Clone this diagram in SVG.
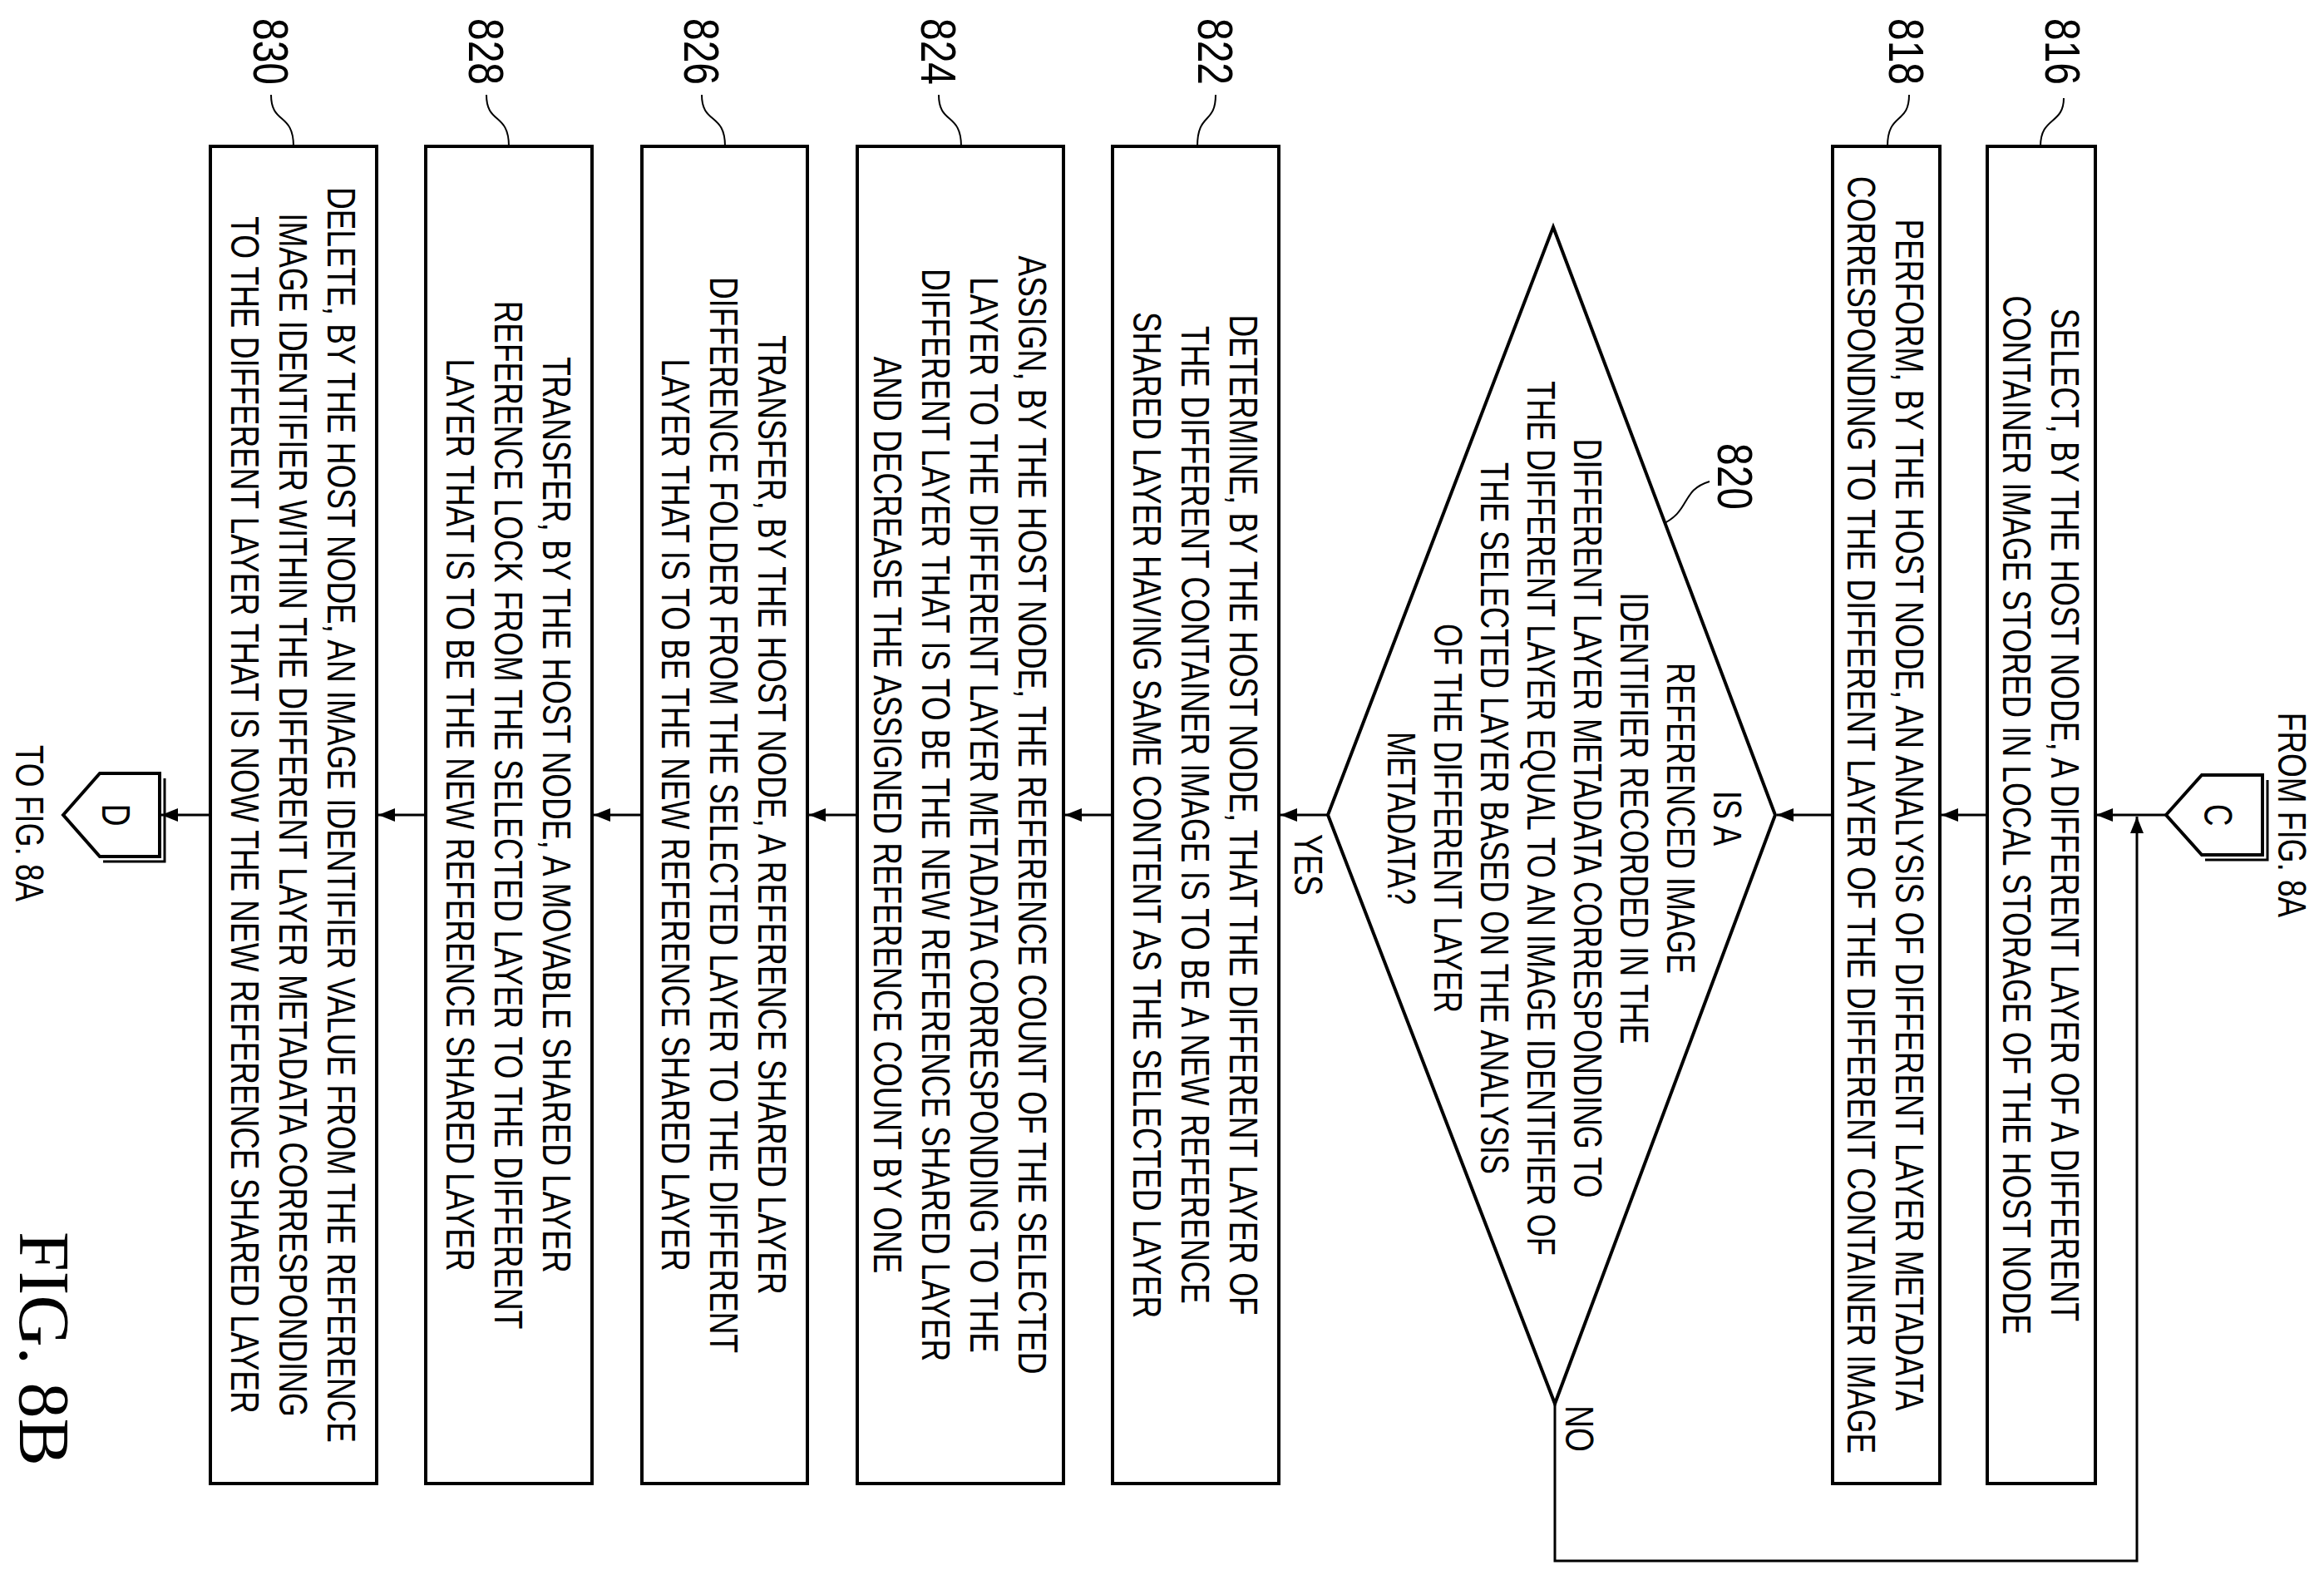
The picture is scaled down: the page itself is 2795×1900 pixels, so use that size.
<svg xmlns="http://www.w3.org/2000/svg" width="2795" height="1900" viewBox="0 0 2795 1900">
<style>
.box{fill:#fff;stroke:#000;stroke-width:4}
.ln{fill:none;stroke:#000;stroke-width:3}
.ld{fill:none;stroke:#000;stroke-width:2}
.t{font-family:"Liberation Sans",Arial,sans-serif;font-size:48px;text-anchor:middle;fill:#000}
.n{font-family:"Liberation Sans",Arial,sans-serif;font-size:60px;text-anchor:middle;fill:#000}
.f{font-family:"Liberation Serif","Times New Roman",serif;font-size:86px;text-anchor:middle;fill:#000}
</style>
<defs>
<marker id="ah" viewBox="0 0 20 16" refX="20" refY="8" markerWidth="20" markerHeight="16" markerUnits="userSpaceOnUse" orient="auto"><path d="M0,0 L20,8 L0,16 Z" fill="#000"/></marker>
</defs>
<g id="connectors">
<line class="ln" x1="2605" y1="980" x2="2521" y2="980" marker-end="url(#ah)"/>
<line class="ln" x1="2390" y1="980" x2="2335" y2="980" marker-end="url(#ah)"/>
<line class="ln" x1="2204" y1="980" x2="2137" y2="980" marker-end="url(#ah)"/>
<line class="ln" x1="1597" y1="980" x2="1540" y2="980" marker-end="url(#ah)"/>
<line class="ln" x1="1338" y1="980" x2="1281" y2="980" marker-end="url(#ah)"/>
<line class="ln" x1="1031" y1="980" x2="973" y2="980" marker-end="url(#ah)"/>
<line class="ln" x1="772" y1="980" x2="714" y2="980" marker-end="url(#ah)"/>
<line class="ln" x1="512" y1="980" x2="455" y2="980" marker-end="url(#ah)"/>
<line class="ln" x1="253" y1="980" x2="194" y2="980" marker-end="url(#ah)"/>
<polyline class="ln" points="1870,1688 1870,1877 2570,1877 2570,982" marker-end="url(#ah)"/>
<path class="ld" d="M2482,118 C2482,150 2454,140 2454,176"/>
<path class="ld" d="M2296,114 C2296,150 2270,135 2270,176"/>
<path class="ld" d="M1462,114 C1462,150 1440,135 1440,176"/>
<path class="ld" d="M1129,114 C1129,150 1156,135 1156,176"/>
<path class="ld" d="M844,114 C844,150 872,135 872,176"/>
<path class="ld" d="M585,114 C585,150 612,135 612,176"/>
<path class="ld" d="M326,114 C326,150 353,135 353,176"/>
<path class="ld" d="M2056,579 C2020,590 2035,615 1996,632"/>
</g>
<g id="n816"><rect class="box" x="2390" y="176" width="130" height="1608"/>
<g transform="translate(2455,980) rotate(90) scale(0.77,1)"><text class="t" y="-12">SELECT, BY THE HOST NODE, A DIFFERENT LAYER OF A DIFFERENT</text><text class="t" y="46">CONTAINER IMAGE STORED IN LOCAL STORAGE OF THE HOST NODE</text></g>
<text class="n" transform="translate(2481,62) rotate(90) scale(0.8,1)" y="21">816</text></g>
<g id="n818"><rect class="box" x="2204" y="176" width="129" height="1608"/>
<g transform="translate(2268,980) rotate(90) scale(0.77,1)"><text class="t" y="-12">PERFORM, BY THE HOST NODE, AN ANALYSIS OF DIFFERENT LAYER METADATA</text><text class="t" y="46">CORRESPONDING TO THE DIFFERENT LAYER OF THE DIFFERENT CONTAINER IMAGE</text></g>
<text class="n" transform="translate(2293,62) rotate(90) scale(0.8,1)" y="21">818</text></g>
<g id="n820"><polygon class="box" points="1868,273 2135,980 1870,1688 1597,980"/>
<g transform="translate(1882,984) rotate(90) scale(0.75,1)">
<text class="t" y="-179">IS A</text><text class="t" y="-123">REFERENCED IMAGE</text><text class="t" y="-67">IDENTIFIER RECORDED IN THE</text><text class="t" y="-11">DIFFERENT LAYER METADATA CORRESPONDING TO</text><text class="t" y="45">THE DIFFERENT LAYER EQUAL TO AN IMAGE IDENTIFIER OF</text><text class="t" y="101">THE SELECTED LAYER BASED ON THE ANALYSIS</text><text class="t" y="157">OF THE DIFFERENT LAYER</text><text class="t" y="213">METADATA?</text></g>
<text class="n" transform="translate(2087,573) rotate(90) scale(0.8,1)" y="21">820</text>
<text class="t" transform="translate(1574,1040) rotate(90) scale(0.77,1)" y="17">YES</text>
<text class="t" transform="translate(1900,1718) rotate(90) scale(0.77,1)" y="17">NO</text></g>
<g id="n822"><rect class="box" x="1338" y="176" width="200" height="1608"/>
<g transform="translate(1438,980) rotate(90) scale(0.77,1)"><text class="t" y="-41">DETERMINE, BY THE HOST NODE, THAT THE DIFFERENT LAYER OF</text><text class="t" y="17">THE DIFFERENT CONTAINER IMAGE IS TO BE A NEW REFERENCE</text><text class="t" y="75">SHARED LAYER HAVING SAME CONTENT AS THE SELECTED LAYER</text></g>
<text class="n" transform="translate(1462,62) rotate(90) scale(0.8,1)" y="21">822</text></g>
<g id="n824"><rect class="box" x="1031" y="176" width="248" height="1608"/>
<g transform="translate(1155,980) rotate(90) scale(0.77,1)"><text class="t" y="-70">ASSIGN, BY THE HOST NODE, THE REFERENCE COUNT OF THE SELECTED</text><text class="t" y="-12">LAYER TO THE DIFFERENT LAYER METADATA CORRESPONDING TO THE</text><text class="t" y="46">DIFFERENT LAYER THAT IS TO BE THE NEW REFERENCE SHARED LAYER</text><text class="t" y="104">AND DECREASE THE ASSIGNED REFERENCE COUNT BY ONE</text></g>
<text class="n" transform="translate(1129,62) rotate(90) scale(0.8,1)" y="21">824</text></g>
<g id="n826"><rect class="box" x="772" y="176" width="199" height="1608"/>
<g transform="translate(871,980) rotate(90) scale(0.77,1)"><text class="t" y="-41">TRANSFER, BY THE HOST NODE, A REFERENCE SHARED LAYER</text><text class="t" y="17">DIFFERENCE FOLDER FROM THE SELECTED LAYER TO THE DIFFERENT</text><text class="t" y="75">LAYER THAT IS TO BE THE NEW REFERENCE SHARED LAYER</text></g>
<text class="n" transform="translate(844,62) rotate(90) scale(0.8,1)" y="21">826</text></g>
<g id="n828"><rect class="box" x="512" y="176" width="200" height="1608"/>
<g transform="translate(612,980) rotate(90) scale(0.77,1)"><text class="t" y="-41">TRANSFER, BY THE HOST NODE, A MOVABLE SHARED LAYER</text><text class="t" y="17">REFERENCE LOCK FROM THE SELECTED LAYER TO THE DIFFERENT</text><text class="t" y="75">LAYER THAT IS TO BE THE NEW REFERENCE SHARED LAYER</text></g>
<text class="n" transform="translate(585,62) rotate(90) scale(0.8,1)" y="21">828</text></g>
<g id="n830"><rect class="box" x="253" y="176" width="200" height="1608"/>
<g transform="translate(353,980) rotate(90) scale(0.77,1)"><text class="t" y="-41">DELETE, BY THE HOST NODE, AN IMAGE IDENTIFIER VALUE FROM THE REFERENCE</text><text class="t" y="17">IMAGE IDENTIFIER WITHIN THE DIFFERENT LAYER METADATA CORRESPONDING</text><text class="t" y="75">TO THE DIFFERENT LAYER THAT IS NOW THE NEW REFERENCE SHARED LAYER</text></g>
<text class="n" transform="translate(326,62) rotate(90) scale(0.8,1)" y="21">830</text></g>
<g id="connC"><polygon class="box" points="2605,980 2648,932 2721,932 2721,1028 2648,1028"/>
<polyline class="ln" points="2652,1034 2727,1034 2727,938"/>
<text class="t" transform="translate(2668,980) rotate(90) scale(0.77,1)" y="17">C</text>
<text class="t" transform="translate(2757,980) rotate(90) scale(0.77,1)" y="17">FROM FIG. 8A</text></g>
<g id="connD"><polygon class="box" points="76,980 120,930 192,930 192,1030 120,1030"/>
<polyline class="ln" points="124,1036 198,1036 198,936"/>
<text class="t" transform="translate(140,980) rotate(90) scale(0.77,1)" y="17">D</text>
<text class="t" transform="translate(36,990) rotate(90) scale(0.77,1)" y="17">TO FIG. 8A</text></g>
<text class="f" transform="translate(55,1622) rotate(90)" y="31">FIG. 8B</text>
</svg>
